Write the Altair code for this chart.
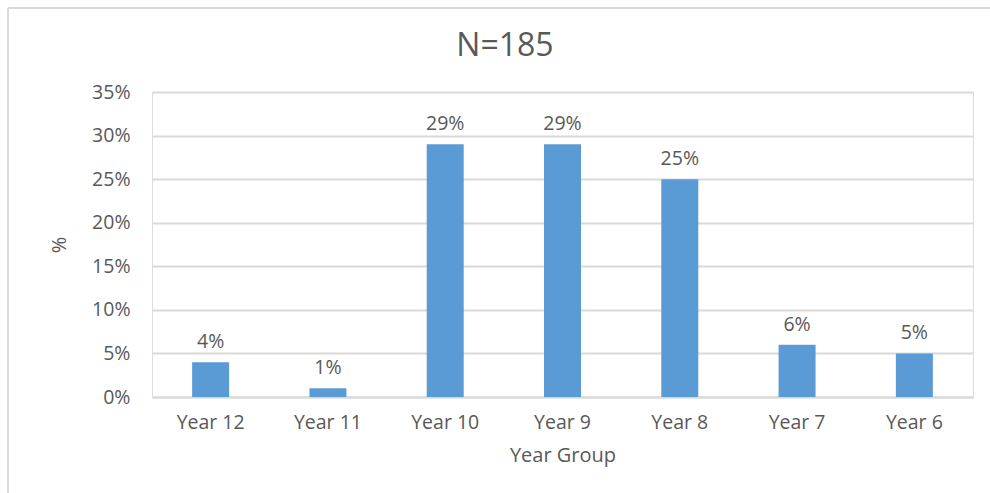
import altair as alt
import pandas as pd

# Share of respondents by year group
year_groups = ["Year 12", "Year 11", "Year 10", "Year 9", "Year 8", "Year 7", "Year 6"]
shares = [0.04, 0.01, 0.29, 0.29, 0.25, 0.06, 0.05]
y_ticks = [0, 0.05, 0.10, 0.15, 0.20, 0.25, 0.30, 0.35]
chart_title = ["N=185"]

df = pd.DataFrame({"group": year_groups, "share": shares})
title_df = pd.DataFrame({"label": chart_title})

FONT = "Open Sans"
TEXT = "#595959"
GRID = "#D9D9D9"
BLUE = "#5B9BD5"

W, H = 821, 305
PAD_L, PAD_T = 152, 92

x_enc = alt.X(
    "group:N",
    sort=year_groups,
    scale=alt.Scale(paddingInner=0, paddingOuter=0),
    axis=alt.Axis(
        title="Year Group",
        titleFont=FONT,
        titleFontSize=20,
        titleFontWeight="normal",
        titleColor=TEXT,
        titlePadding=14,
        labelFont=FONT,
        labelFontSize=19.5,
        labelColor=TEXT,
        labelPadding=16,
        labelAngle=0,
        ticks=False,
        domain=True,
        domainColor=GRID,
        domainWidth=2,
        grid=False,
    ),
)

y_enc = alt.Y(
    "share:Q",
    scale=alt.Scale(domain=[0, 0.35], nice=False),
    axis=alt.Axis(
        title="%",
        titleFont=FONT,
        titleFontSize=20,
        titleFontWeight="normal",
        titleColor=TEXT,
        titlePadding=22,
        values=y_ticks,
        format=".0%",
        labelFont=FONT,
        labelFontSize=19.5,
        labelColor=TEXT,
        labelPadding=22,
        ticks=False,
        domain=False,
        grid=True,
        gridColor=GRID,
        gridWidth=2,
    ),
)

bars = alt.Chart(df).mark_bar(color=BLUE, size=37).encode(x=x_enc, y=y_enc)

labels = alt.Chart(df).mark_text(
    font=FONT, fontSize=19.5, color=TEXT, baseline="alphabetic", dy=-14
).encode(
    x=alt.X("group:N", sort=year_groups),
    y="share:Q",
    text=alt.Text("share:Q", format=".0%"),
)

# Chart heading, drawn as text above the plot
heading = alt.Chart(title_df).mark_text(
    font=FONT, fontSize=32, color=TEXT, align="center", baseline="alphabetic"
).encode(x=alt.value(353), y=alt.value(56 - PAD_T), text="label:N")

# Outer frame edges (top and left) of the chart box
frame_left = alt.Chart(title_df).mark_rule(color=GRID, strokeWidth=2).encode(
    x=alt.value(8 - PAD_L), y=alt.value(8 - PAD_T), y2=alt.value(493 - PAD_T)
)
frame_top = alt.Chart(title_df).mark_rule(color=GRID, strokeWidth=2).encode(
    x=alt.value(8 - PAD_L), x2=alt.value(990 - PAD_L), y=alt.value(8 - PAD_T)
)

chart = (
    alt.layer(bars, labels, heading, frame_left, frame_top)
    .properties(
        width=W,
        height=H,
        autosize=alt.AutoSizeParams(type="none"),
        padding={"left": PAD_L, "top": PAD_T, "right": 990 - PAD_L - W, "bottom": 493 - PAD_T - H},
    )
    .configure_view(stroke=None)
    .configure(background="white")
)

chart.save("out.html", embed_options={"renderer": "svg", "actions": False})
